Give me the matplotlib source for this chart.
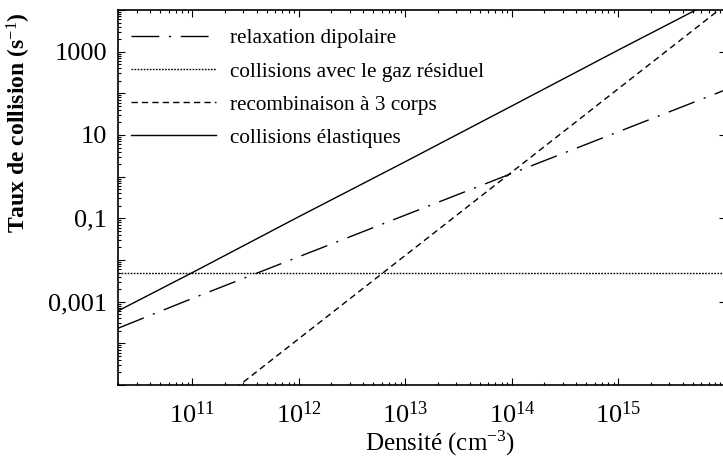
import matplotlib
matplotlib.use("Agg")
import matplotlib.pyplot as plt
from matplotlib.ticker import LogLocator, FuncFormatter, FixedLocator, NullFormatter

plt.rcParams['font.family'] = ['Liberation Serif', 'DejaVu Serif']
plt.rcParams['mathtext.fontset'] = 'custom'
plt.rcParams['mathtext.rm'] = 'Liberation Serif'
plt.rcParams['mathtext.it'] = 'Liberation Serif:italic'
plt.rcParams['mathtext.bf'] = 'Liberation Serif:bold'

# ---- data ----
density = [2e10, 1e11, 1e12, 1e13, 1e14, 1e15, 1e16]          # cm^-3
relaxation_dipolaire = [2.3e-4, 1.2e-3, 1.2e-2, 0.12, 1.2, 12, 120]
gaz_residuel = [5e-3, 5e-3, 5e-3, 5e-3, 5e-3, 5e-3, 5e-3]
recombinaison_3_corps = [1.3e-8, 1.3e-6, 1.3e-4, 1.3e-2, 1.3, 130, 1.3e4]
collisions_elastiques = [6e-4, 5e-3, 0.11, 2.3, 50, 1.1e3, 2.3e4]

series_labels = ["relaxation dipolaire",
                 "collisions avec le gaz résiduel",
                 "recombinaison à 3 corps",
                 "collisions élastiques"]

x_ticks = [1e11, 1e12, 1e13, 1e14, 1e15]
y_label_ticks = [1e3, 1e1, 1e-1, 1e-3]
y_tick_labels = ["1000", "10", "0,1", "0,001"]

# ---- figure ----
W, H = 723, 458
fig = plt.figure(figsize=(W / 100, H / 100), dpi=100)
ax = fig.add_axes([118 / W, (H - 385) / H, (725 - 118) / W, 375 / H])

lw = 1.0
ax.plot(density, relaxation_dipolaire, color='black', lw=lw,
        dashes=(20, 7, 1.5, 7), label=series_labels[0])
ax.plot(density, gaz_residuel, color='black', lw=lw,
        dashes=(1.2, 1.0), label=series_labels[1])
ax.plot(density, recombinaison_3_corps, color='black', lw=lw,
        dashes=(4.5, 3), label=series_labels[2])
ax.plot(density, collisions_elastiques, color='black', lw=lw,
        linestyle='-', label=series_labels[3])

ax.set_xscale('log')
ax.set_yscale('log')
ax.set_xlim(2e10, 1e16)
ax.set_ylim(1e-5, 1e4)

# x ticks
ax.xaxis.set_major_locator(FixedLocator(x_ticks))
ax.xaxis.set_minor_locator(LogLocator(base=10, subs=range(2, 10), numticks=20))
ax.xaxis.set_minor_formatter(NullFormatter())

# y ticks: every decade, labels every other decade
ax.yaxis.set_major_locator(LogLocator(base=10, numticks=20))
ax.yaxis.set_minor_locator(LogLocator(base=10, subs=range(2, 10), numticks=20))
ax.yaxis.set_minor_formatter(NullFormatter())
lab_map = {v: t for v, t in zip(y_label_ticks, y_tick_labels)}

def yfmt(v, pos):
    for k, t in lab_map.items():
        if abs(v / k - 1) < 1e-6:
            return t
    return ""

ax.yaxis.set_major_formatter(FuncFormatter(yfmt))

ax.tick_params(which='both', direction='in', top=True, right=False,
               width=0.8, labelsize=19, color='black')
ax.tick_params(which='major', length=5)
ax.tick_params(which='minor', length=2.5)
ax.tick_params(axis='x', which='major', pad=12)
ax.tick_params(axis='y', which='major', pad=8)

sec = ax.secondary_yaxis('right')
sec.set_yscale('log')
sec.yaxis.set_major_locator(FixedLocator(y_label_ticks))
sec.yaxis.set_minor_locator(FixedLocator([]))
sec.yaxis.set_major_formatter(NullFormatter())
sec.tick_params(direction='in', length=4, width=0.8)

for s in list(ax.spines.values()) + list(sec.spines.values()):
    s.set_linewidth(1.2)

ax.set_xlabel("Densité (cm$^{-3}$)", fontsize=18)
ax.xaxis.set_label_coords(0.53, -0.117, transform=ax.transAxes)
ax.set_ylabel("Taux de collision (s$^{-1}$)", fontsize=17, fontweight='bold')
ax.yaxis.set_label_coords(-0.14, 0.70, transform=ax.transAxes)

leg = ax.legend(loc='upper left', bbox_to_anchor=(-0.003, 0.99), frameon=False,
                fontsize=15.3, handlelength=4.0, handletextpad=0.65,
                labelspacing=0.62, borderaxespad=0.3)

fig.savefig("out.png", dpi=100)
